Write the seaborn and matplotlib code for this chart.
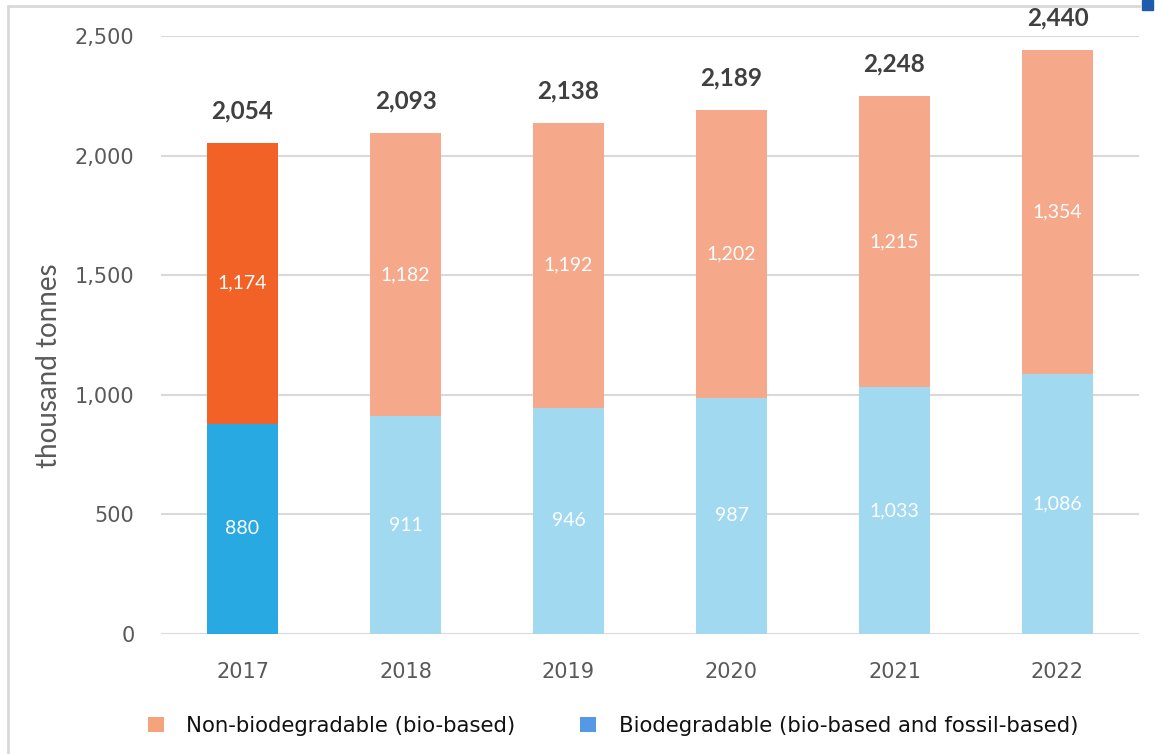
import matplotlib
matplotlib.use("Agg")
import matplotlib.pyplot as plt
from matplotlib.patches import Patch, Rectangle
from matplotlib.lines import Line2D
import seaborn as sns
import pandas as pd

years = ["2017", "2018", "2019", "2020", "2021", "2022"]
non_biodegradable = [1174, 1182, 1192, 1202, 1215, 1354]
biodegradable = [880, 911, 946, 987, 1033, 1086]
totals = [2054, 2093, 2138, 2189, 2248, 2440]
ytick_vals = [0, 500, 1000, 1500, 2000, 2500]
legend_labels = ["Non-biodegradable (bio-based)", "Biodegradable (bio-based and fossil-based)"]

top_colors = ["#F26125"] + ["#F5A88A"] * 5
bot_colors = ["#29A9E1"] + ["#A1D9F1"] * 5

df = pd.DataFrame({"year": years, "nb": non_biodegradable, "bd": biodegradable, "total": totals})

sns.set_theme(style="white")
plt.rcParams["font.family"] = ["DejaVu Sans"]

fig = plt.figure(figsize=(11.55, 7.54), dpi=100)
ax = fig.add_axes([161 / 1155, 1 - 634 / 754, (1139 - 161) / 1155, (634 - 36) / 754])

sns.barplot(data=df, x="year", y="total", hue="year", palette=top_colors, width=0.436,
            legend=False, ax=ax, saturation=1, linewidth=0, zorder=3)
sns.barplot(data=df, x="year", y="bd", hue="year", palette=bot_colors, width=0.436,
            legend=False, ax=ax, saturation=1, linewidth=0, zorder=3)

ax.set_ylim(0, 2500)
ax.set_xlim(-0.5, 5.5)
ax.set_yticks(ytick_vals)
ax.set_yticklabels([f"{v:,}" for v in ytick_vals])
ax.yaxis.grid(True, color="#D9D9D9", linewidth=1.5, zorder=0)
ax.set_axisbelow(True)
for s in ax.spines.values():
    s.set_visible(False)
ax.tick_params(axis="both", length=0, labelsize=15, colors="#595959")
ax.tick_params(axis="y", pad=19)
ax.tick_params(axis="x", pad=20)
ax.set_xlabel("")
ax.set_ylabel("thousand tonnes", fontsize=20, color="#595959", family=["Lato", "DejaVu Sans"])
ax.yaxis.set_label_coords((62 - 161) / 978, (634 - 366) / 598)

for i in range(len(years)):
    b = biodegradable[i]
    n = non_biodegradable[i]
    ax.text(i, b / 2, f"{b:,}", ha="center", va="center", color="white", fontsize=14,
            family=["Lato", "DejaVu Sans"], zorder=5)
    ax.text(i, b + n / 2, f"{n:,}", ha="center", va="center", color="white", fontsize=14,
            family=["Lato", "DejaVu Sans"], zorder=5)
    ax.annotate(f"{totals[i]:,}", xy=(i, totals[i]), xytext=(0, 32), textcoords="offset pixels",
                ha="center", va="center", color="#404040", fontsize=17.5, fontweight="bold",
                family=["Lato", "DejaVu Sans"])

handles = [Patch(facecolor="#F4A47D", edgecolor="none"), Patch(facecolor="#5599E6", edgecolor="none")]
fig.legend(handles, legend_labels, loc="center", bbox_to_anchor=(613 / 1155, 1 - 726 / 754), ncol=2,
           frameon=False, fontsize=15.3, handlelength=0.75, handleheight=0.75, handletextpad=1.05,
           columnspacing=3.05, labelcolor="#111111")

# frame lines and corner mark of the original screenshot
fig.add_artist(Line2D([8 / 1155, 8 / 1155], [0, 1 - 6 / 754], color="#D9D9D9", linewidth=2,
                      transform=fig.transFigure))
fig.add_artist(Line2D([8 / 1155, 1140 / 1155], [1 - 6 / 754, 1 - 6 / 754], color="#D9D9D9", linewidth=2,
                      transform=fig.transFigure))
fig.add_artist(Rectangle((1142 / 1155, 1 - 10 / 754), 11 / 1155, 10 / 754, color="#1F5BAD",
                         transform=fig.transFigure))

fig.savefig("out.png", dpi=100, facecolor="white")
